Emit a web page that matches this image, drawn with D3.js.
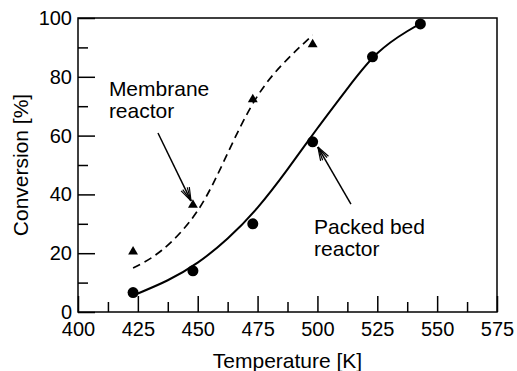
<!DOCTYPE html>
<html>
<head>
<meta charset="utf-8">
<script src="https://cdn.jsdelivr.net/npm/d3@7"></script>
<style>
  body { margin: 0; background: #fff; }
  svg { display: block; }
  text { font-family: "Liberation Sans", Arial, Helvetica, sans-serif; fill: #000; }
</style>
</head>
<body>
<svg id="chart" width="517" height="371"></svg>
<script>
// Measured points
var packedTemp = [423, 448, 473, 498, 523, 543];
var packedConv = [6.6, 14.0, 30.0, 57.9, 86.8, 98.0];
var membraneTemp = [423, 448, 473, 498];
var membraneConv = [20.5, 36.4, 72.3, 91.0];

// Fitted trend lines
var packedFitTemp = [425, 437.5, 450, 462.5, 475, 487.5, 500, 512.5, 525, 537.5, 543];
var packedFitConv = [6.3, 10.8, 16.8, 25, 35.5, 48.5, 62.5, 76, 88, 95.5, 98];
var membraneFitTemp = [423, 435, 450, 462.5, 475, 487.5, 498];
var membraneFitConv = [15, 21, 34.5, 54, 73.5, 86, 94.2];

// Axis ticks
var xMajorTicks = [400, 425, 450, 475, 500, 525, 550, 575];
var xMinorTicks = [412.5, 437.5, 462.5, 487.5, 512.5, 537.5, 562.5];
var yMajorTicks = [0, 20, 40, 60, 80, 100];
var yMinorTicks = [10, 30, 50, 70, 90];

// Callouts, in data units: label anchor, arrow tail, arrow tip
var callouts = [
  {lines: ['Membrane', 'reactor'], tx: 412.9, ty: 73.6, x1: 433.4, y1: 60.9, x2: 447.2, y2: 37.8},
  {lines: ['Packed bed', 'reactor'], tx: 498.6, ty: 26.4, x1: 514.0, y1: 36.7, x2: 500.2, y2: 56.1}
];

var margin = {top: 18, right: 20, bottom: 59, left: 78};
var svg = d3.select('#chart');
var width = +svg.attr('width') - margin.left - margin.right;
var height = +svg.attr('height') - margin.top - margin.bottom;

var x = d3.scaleLinear().domain([400, 575]).range([0, width]);
var y = d3.scaleLinear().domain([0, 100]).range([height, 0]);

var g = svg.append('g').attr('transform', 'translate(' + margin.left + ',' + margin.top + ')');

function styleAxis(sel) {
  sel.select('.domain').remove();
  sel.selectAll('line').attr('stroke', '#000').attr('stroke-width', 1.5);
  sel.selectAll('text').style('font-size', '20px').attr('fill', '#000');
}

// x axis, ticks point into the plot
g.append('g')
    .attr('transform', 'translate(0,' + height + ')')
    .call(d3.axisBottom(x).tickValues(xMajorTicks).tickSizeInner(-16).tickSizeOuter(0).tickPadding(10))
    .call(styleAxis);
g.append('g')
    .attr('transform', 'translate(0,' + height + ')')
    .call(d3.axisBottom(x).tickValues(xMinorTicks).tickSizeInner(-10).tickSizeOuter(0).tickFormat(''))
    .call(styleAxis);

// y axis
g.append('g')
    .call(d3.axisLeft(y).tickValues(yMajorTicks).tickSizeInner(-17).tickSizeOuter(0).tickPadding(6))
    .call(styleAxis);
g.append('g')
    .call(d3.axisLeft(y).tickValues(yMinorTicks).tickSizeInner(-10).tickSizeOuter(0).tickFormat(''))
    .call(styleAxis);

g.append('rect')
    .attr('width', width)
    .attr('height', height)
    .attr('fill', 'none')
    .attr('stroke', '#000')
    .attr('stroke-width', 1.5);

// axis titles
g.append('text')
    .attr('x', width / 2)
    .attr('y', height + 56)
    .attr('text-anchor', 'middle')
    .style('font-size', '21px')
    .text('Temperature [K]');

g.append('text')
    .attr('transform', 'translate(' + (-50) + ',' + (height / 2) + ') rotate(-90)')
    .attr('text-anchor', 'middle')
    .style('font-size', '21px')
    .text('Conversion [%]');

// trend lines
var line = d3.line()
    .x(function(d) { return x(d[0]); })
    .y(function(d) { return y(d[1]); })
    .curve(d3.curveNatural);

g.append('path')
    .datum(d3.zip(packedFitTemp, packedFitConv))
    .attr('d', line)
    .attr('fill', 'none')
    .attr('stroke', '#000')
    .attr('stroke-width', 2);

g.append('path')
    .datum(d3.zip(membraneFitTemp, membraneFitConv))
    .attr('d', line)
    .attr('fill', 'none')
    .attr('stroke', '#000')
    .attr('stroke-width', 1.7)
    .attr('stroke-dasharray', '8,5');

// markers
g.selectAll('.packed')
    .data(d3.zip(packedTemp, packedConv))
    .enter().append('circle')
    .attr('class', 'packed')
    .attr('cx', function(d) { return x(d[0]); })
    .attr('cy', function(d) { return y(d[1]); })
    .attr('r', 5.5)
    .attr('fill', '#000');

var tri = d3.symbol().type(d3.symbolTriangle).size(42);
g.selectAll('.membrane')
    .data(d3.zip(membraneTemp, membraneConv))
    .enter().append('path')
    .attr('class', 'membrane')
    .attr('transform', function(d) { return 'translate(' + x(d[0]) + ',' + y(d[1]) + ')'; })
    .attr('d', tri)
    .attr('fill', '#000');

// callouts with open arrowheads
callouts.forEach(function(c) {
  var label = g.append('text')
      .attr('x', x(c.tx))
      .attr('y', y(c.ty))
      .style('font-size', '21px');
  c.lines.forEach(function(t, i) {
    label.append('tspan')
        .attr('x', x(c.tx))
        .attr('dy', i === 0 ? 0 : 22)
        .text(t);
  });

  var ax1 = x(c.x1), ay1 = y(c.y1), ax2 = x(c.x2), ay2 = y(c.y2);
  g.append('line')
      .attr('x1', ax1).attr('y1', ay1)
      .attr('x2', ax2).attr('y2', ay2)
      .attr('stroke', '#000')
      .attr('stroke-width', 1.5);

  var ang = Math.atan2(ay1 - ay2, ax1 - ax2);
  [-0.33, -0.18, 0.18, 0.33].forEach(function(da) {
    g.append('line')
        .attr('x1', ax2).attr('y1', ay2)
        .attr('x2', ax2 + 14 * Math.cos(ang + da))
        .attr('y2', ay2 + 14 * Math.sin(ang + da))
        .attr('stroke', '#000')
        .attr('stroke-width', 1.2);
  });
});
</script>
</body>
</html>
